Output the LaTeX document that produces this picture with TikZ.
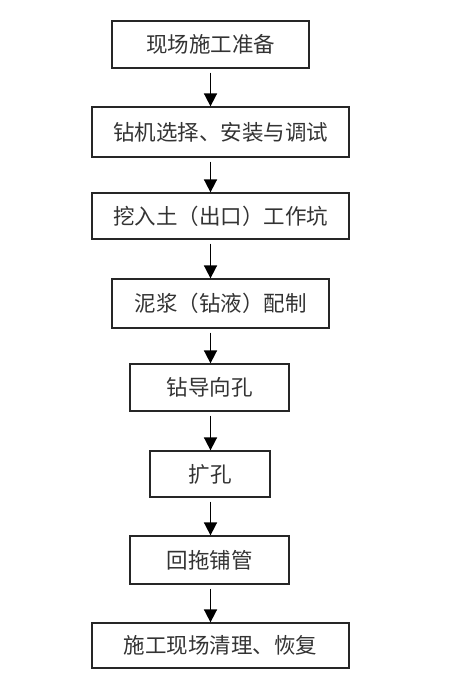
\documentclass[tikz,border=0pt]{standalone}
\usepackage{fontspec}
\newfontfamily\cjk{Noto Sans CJK SC}
\usetikzlibrary{arrows.meta}
\begin{document}
\begin{tikzpicture}[x=1pt,y=-1pt,
  stepbox/.style={draw=black!85,line width=1.3pt,inner sep=0pt,font=\cjk\fontsize{21.5}{25}\selectfont,text=black!80},
  flow/.style={line width=1.7pt,shorten <=4pt,-{Triangle[width=13pt,length=13pt]}}]
\useasboundingbox (0,0) rectangle (469,686);
\node[stepbox,minimum width=197pt,minimum height=47pt] (b1) at (210.5,44.5) {现场施工准备};
\node[stepbox,minimum width=257pt,minimum height=50pt] (b2) at (220.5,132) {钻机选择、安装与调试};
\node[stepbox,minimum width=257pt,minimum height=46pt] (b3) at (220.5,216) {挖入土（出口）工作坑};
\node[stepbox,minimum width=217pt,minimum height=49pt] (b4) at (220.5,303.5) {泥浆（钻液）配制};
\node[stepbox,minimum width=159pt,minimum height=47pt] (b5) at (209.5,387.5) {钻导向孔};
\node[stepbox,minimum width=120pt,minimum height=46pt] (b6) at (210,474) {扩孔};
\node[stepbox,minimum width=159pt,minimum height=48pt] (b7) at (209.5,560) {回拖铺管};
\node[stepbox,minimum width=257pt,minimum height=45pt] (b8) at (220.5,645.5) {施工现场清理、恢复};
\coordinate (ax) at (210.5,0);
\foreach \a/\b in {b1/b2,b2/b3,b3/b4,b4/b5,b5/b6,b6/b7,b7/b8}
  \draw[flow] (\a.south -| ax) -- (\b.north -| ax);
\end{tikzpicture}
\end{document}
